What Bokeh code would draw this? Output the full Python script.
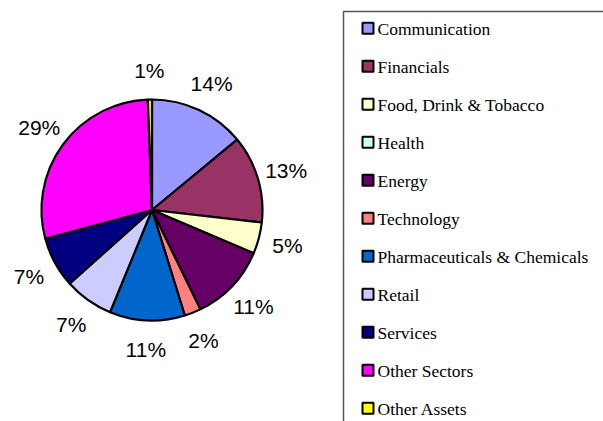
import math
from bokeh.plotting import figure
from bokeh.models import Range1d, ColumnDataSource
from bokeh.core.properties import value
from bokeh.embed import file_html
from bokeh.resources import INLINE

# ---- data ----
sectors = ["Communication", "Financials", "Food, Drink & Tobacco", "Health", "Energy",
           "Technology", "Pharmaceuticals & Chemicals", "Retail", "Services",
           "Other Sectors", "Other Assets"]
shares = [14.0, 12.8, 4.6, 0.0, 11.4, 2.4, 11.0, 7.2, 7.4, 28.6, 0.6]
colors = ["#9999FF", "#993366", "#FFFFCC", "#CCFFFF", "#660066", "#FF8080",
          "#0066CC", "#CCCCFF", "#000080", "#FF00FF", "#FFFF00"]

# ---- layout (screen-pixel coordinates, y negated) ----
W, H = 603, 421
p = figure(width=W, height=H, output_backend="svg", toolbar_location=None,
           x_range=Range1d(0, W), y_range=Range1d(-H, 0),
           x_axis_location=None, y_axis_location=None, min_border=0,
           outline_line_color=None, background_fill_color="white")
p.grid.visible = False

cx, cy, R = 151.5, -209.5, 110.5
total = sum(shares)
starts, ends, lx, ly, labs, wcol = [], [], [], [], [], []
cum = 0.0
for s, c in zip(shares, colors):
    a0 = cum / total
    cum += s
    a1 = cum / total
    if s <= 0:
        continue
    starts.append(math.pi / 2 - a1 * 2 * math.pi)
    ends.append(math.pi / 2 - a0 * 2 * math.pi)
    wcol.append(c)
    mid = (a0 + a1) / 2 * 2 * math.pi
    rl = 140
    lx.append(cx + rl * math.sin(mid))
    ly.append(cy + rl * math.cos(mid))
    labs.append(f"{round(s / total * 100)}%")

src = ColumnDataSource(dict(start=starts, end=ends, color=wcol))
p.wedge(x=cx, y=cy, radius=R, start_angle="start", end_angle="end",
        fill_color="color", line_color="black", line_width=2.2, source=src)

p.text(x=lx, y=ly, text=labs, text_font=value("Liberation Sans"),
       text_font_size="21px", text_align="center", text_baseline="middle",
       text_color="black")

# ---- legend ----
p.quad(left=[343], right=[800], top=[-11], bottom=[-800], fill_color=None,
       line_color="#555555", line_width=1.5)
y0, step = 27.7, 38.0
ys = [-(y0 + i * step) for i in range(len(sectors))]
p.rect(x=[367.5] * len(sectors), y=ys, width=11, height=11, fill_color=colors,
       line_color="black", line_width=2)
p.text(x=[377] * len(sectors), y=[y - 0.5 for y in ys], text=sectors,
       text_font=value("Liberation Serif"), text_font_size="17.5px",
       text_align="left", text_baseline="middle", text_color="black")

open("out.html", "w").write(file_html(p, INLINE))
